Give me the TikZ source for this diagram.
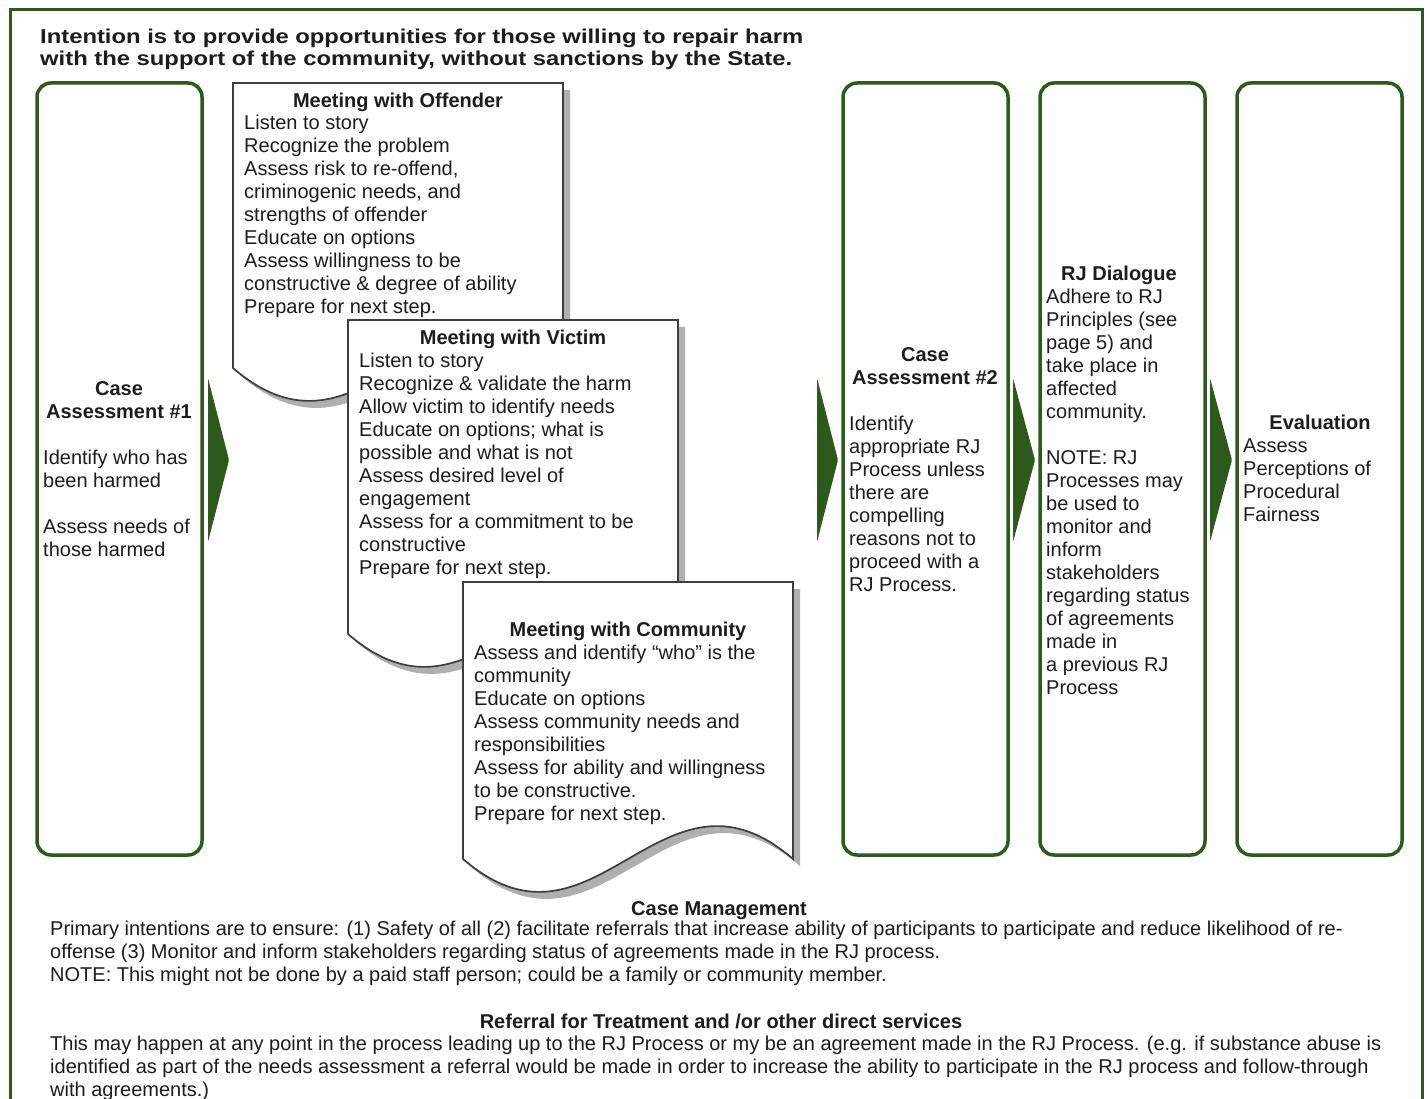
\documentclass[tikz,border=0pt]{standalone}
\usepackage{fontspec}
\setmainfont{Liberation Sans}
\newfontfamily\headfont[FakeStretch=1.19]{Liberation Sans}
\usetikzlibrary{calc}
\definecolor{gframe}{RGB}{45,90,28}
\definecolor{ink}{RGB}{28,28,28}
\definecolor{shade}{RGB}{175,175,175}
\begin{document}
\begin{tikzpicture}[x=1pt,y=-1pt,
  gbox/.style={draw=gframe, line width=3.5pt, rounded corners=14pt, minimum width=165pt, minimum height=772pt, anchor=north west, inner sep=0pt, outer sep=0pt},
  body/.style={font=\fontsize{20}{23}\selectfont, align=left, anchor=north west, inner sep=0pt, text=ink},
  ttl/.style={font=\bfseries\fontsize{20}{23}\selectfont, align=center, anchor=north, inner sep=0pt, text=ink},
  docline/.style={draw=ink!85, line width=1.7pt, fill=white, line join=miter},
  docshadow/.style={fill=shade},
  chev/.style={fill=gframe, rounded corners=1.5pt}]
\useasboundingbox (0,0) rectangle (1427,1099);
\clip (0,0) rectangle (1427,1099);
\fill[white] (0,0) rectangle (1427,1099);
% outer frame
\draw[gframe, line width=3pt] (10,1110) -- (10,10) -- (1422,10) -- (1422,1110);
% heading
\node[font=\headfont\bfseries\fontsize{20}{21.5}\selectfont, align=left, anchor=north west, inner sep=0pt, text=ink] (head) at (40,28.5)
  {\strut Intention is to provide opportunities for those willing to repair harm\\with the support of the community, without sanctions by the State.};
% green boxes
\node[gbox] (b1) at (37,83) {};
\node[gbox] (b2) at (843,83) {};
\node[gbox] (b3) at (1040,83) {};
\node[gbox] (b4) at (1237,83) {};
% chevrons
\fill[chev] (208,378) -- (229,460) -- (208,542) -- cycle;
\fill[chev] (817,378) -- (838,460) -- (817,542) -- cycle;
\fill[chev] (1013,378) -- (1035,460) -- (1013,542) -- cycle;
\fill[chev] (1210,378) -- (1232,460) -- (1210,542) -- cycle;
% document shapes
\fill[docshadow, shift={(7,7)}] (233,83) -- (563,83) -- (563,368) .. controls (431,254) and (365,482) .. (233,368) -- cycle;
\draw[docline] (233,83) -- (563,83) -- (563,368) .. controls (431,254) and (365,482) .. (233,368) -- cycle;
\fill[docshadow, shift={(7,7)}] (348,320) -- (678,320) -- (678,634) .. controls (546,520) and (480,748) .. (348,634) -- cycle;
\draw[docline] (348,320) -- (678,320) -- (678,634) .. controls (546,520) and (480,748) .. (348,634) -- cycle;
\fill[docshadow, shift={(7,7)}] (463,582) -- (793,582) -- (793,859) .. controls (661,745) and (595,973) .. (463,859) -- cycle;
\draw[docline] (463,582) -- (793,582) -- (793,859) .. controls (661,745) and (595,973) .. (463,859) -- cycle;
\begin{scope}[yshift=-1pt]
% offender
\node[ttl] (offT) at (398,90) {\strut Meeting with Offender};
\node[body] (offB) at (244,112) {\strut Listen to story\\Recognize the problem\\Assess risk to re-offend,\\criminogenic needs, and\\strengths of offender\\Educate on options\\Assess willingness to be\\constructive \& degree of ability\\Prepare for next step.};
% victim
\node[ttl] (vicT) at (513,327) {\strut Meeting with Victim};
\node[body] (vicB) at (359,350) {\strut Listen to story\\Recognize \& validate the harm\\Allow victim to identify needs\\Educate on options; what is\\possible and what is not\\Assess desired level of\\engagement\\Assess for a commitment to be\\constructive\\Prepare for next step.};
% community
\node[ttl] (comT) at (628,619) {\strut Meeting with Community};
\node[body] (comB) at (474,642) {\strut Assess and identify “who” is the\\community\\Educate on options\\Assess community needs and\\responsibilities\\Assess for ability and willingness\\to be constructive.\\Prepare for next step.};
% box 1
\node[ttl] (b1T) at (119,378) {\strut Case\\Assessment \#1};
\node[body] (b1B) at (43,447) {\strut Identify who has\\been harmed\\[23pt]Assess needs of\\those harmed};
% box 2
\node[ttl] (b2T) at (925,344) {\strut Case\\Assessment \#2};
\node[body] (b2B) at (849,413) {\strut Identify\\appropriate RJ\\Process unless\\there are\\compelling\\reasons not to\\proceed with a\\RJ Process.};
% box 3
\node[ttl] (b3T) at (1119,263) {\strut RJ Dialogue};
\node[body] (b3B) at (1046,286) {\strut Adhere to RJ\\Principles (see\\page 5) and\\take place in\\affected\\community.\\[23pt]NOTE: RJ\\Processes may\\be used to\\monitor and\\inform\\stakeholders\\regarding status\\of agreements\\made in\\a previous RJ\\Process};
% box 4
\node[ttl] (b4T) at (1320,412) {\strut Evaluation};
\node[body] (b4B) at (1243,435) {\strut Assess\\Perceptions of\\Procedural\\Fairness};
% bottom
\node[ttl] (cmT) at (719,898) {\strut Case Management};
\node[body] (cmB) at (50,918) {\strut Primary intentions are to ensure: (1) Safety of all (2) facilitate referrals that increase ability of participants to participate and reduce likelihood of re-\\offense (3) Monitor and inform stakeholders regarding status of agreements made in the RJ process.\\NOTE: This might not be done by a paid staff person; could be a family or community member.};
\node[ttl] (rfT) at (721,1011) {\strut Referral for Treatment and /or other direct services};
\node[body] (rfB) at (50,1033) {\strut This may happen at any point in the process leading up to the RJ Process or my be an agreement made in the RJ Process. (e.g. if substance abuse is\\identified as part of the needs assessment a referral would be made in order to increase the ability to participate in the RJ process and follow-through\\with agreements.)};
\end{scope}
\end{tikzpicture}
\end{document}
